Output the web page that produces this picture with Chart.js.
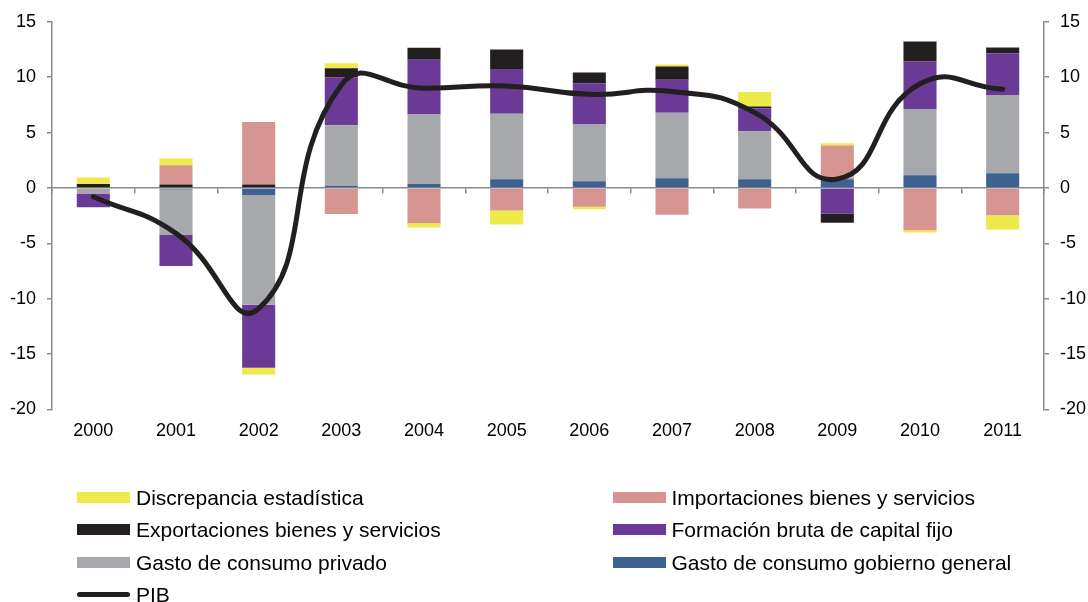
<!DOCTYPE html>
<html>
<head>
<meta charset="utf-8">
<script src="https://cdn.jsdelivr.net/npm/chart.js@4"></script>
<style>
    body { margin: 0; background: #fff; font-family: "Liberation Sans", Arial, sans-serif; }
    #contenedor { position: relative; width: 1088px; height: 602px; }
    #leyenda { position: absolute; left: 77px; top: 482px; width: 1011px; }
    .item { position: absolute; height: 32px; line-height: 32px; font-size: 21px; color: #000; white-space: nowrap; }
    .muestra { display: inline-block; width: 53px; height: 11px; vertical-align: middle; margin-right: 6px; position: relative; top: -2px; }
    .linea { height: 5px; border-radius: 3px; }
</style>
</head>
<body>
<div id="contenedor">
    <canvas id="grafico" width="1088" height="602"></canvas>
    <div id="leyenda"></div>
</div>
<script>
var anios = ['2000', '2001', '2002', '2003', '2004', '2005', '2006', '2007', '2008', '2009', '2010', '2011'];

var gobierno = [0, -0.15, -0.65, 0.2, 0.36, 0.78, 0.6, 0.87, 0.78, 0.78, 1.14, 1.32];
var privado = [-0.5, -4.1, -9.9, 5.45, 6.28, 5.92, 5.17, 5.92, 4.33, 0.15, 5.95, 7.03];
var formacion = [-1.25, -2.8, -5.7, 4.35, 4.93, 3.97, 3.67, 2.98, 2.07, -2.3, 4.33, 3.79];
var exportaciones = [0.35, 0.3, 0.3, 0.8, 1.08, 1.83, 0.99, 1.2, 0.18, -0.85, 1.8, 0.54];
var importaciones = [0, 1.75, 5.65, -2.35, -3.19, -2.04, -1.71, -2.43, -1.86, 2.9, -3.82, -2.46];
var discrepancia = [0.6, 0.6, -0.6, 0.45, -0.39, -1.27, -0.21, 0.18, 1.29, 0.2, -0.21, -1.3];
var pib = [-0.8, -4.1, -10.9, 9.3, 9.0, 9.2, 8.45, 8.7, 6.8, 0.8, 9.4, 8.9];

var gris = '#8a8a8d';
var fuente = { family: '"Liberation Sans", Arial, sans-serif', size: 18 };

function barra(nombre, valores, color) {
    return {
        type: 'bar',
        label: nombre,
        data: valores,
        backgroundColor: color,
        borderWidth: 0,
        categoryPercentage: 1,
        barPercentage: 0.4,
        yAxisID: 'y',
        order: 1
    };
}

var datasets = [
    barra('Gasto de consumo gobierno general', gobierno, '#3d6191'),
    barra('Gasto de consumo privado', privado, '#a7a8ab'),
    barra('Formación bruta de capital fijo', formacion, '#6b3a96'),
    barra('Exportaciones bienes y servicios', exportaciones, '#231f20'),
    barra('Importaciones bienes y servicios', importaciones, '#d69591'),
    barra('Discrepancia estadística', discrepancia, '#eeea4a'),
    {
        type: 'line',
        label: 'PIB',
        data: pib,
        borderColor: '#231f20',
        borderWidth: 5,
        borderCapStyle: 'round',
        tension: 0.5,
        pointRadius: 0,
        fill: false,
        yAxisID: 'y2',
        order: 0
    }
];

function ejeY(ancho) {
    return {
        min: -20,
        max: 15,
        border: { color: gris, width: 1.5 },
        grid: { drawOnChartArea: false, color: gris, tickLength: 5, lineWidth: 1.5 },
        ticks: { stepSize: 5, color: '#000', font: fuente, padding: 11 },
        afterFit: function(escala) { escala.width = ancho; }
    };
}

new Chart(document.getElementById('grafico'), {
    data: { labels: anios, datasets: datasets },
    options: {
        responsive: false,
        animation: false,
        layout: { padding: { left: 0, right: 0, top: 21, bottom: 149 } },
        plugins: { legend: { display: false }, tooltip: { enabled: false } },
        scales: {
            x: {
                stacked: true,
                border: { display: false },
                grid: { display: false, drawTicks: false },
                ticks: { color: '#000', font: fuente, padding: 11 }
            },
            // linea del cero con las marcas entre categorias
            x2: {
                type: 'category',
                position: { y: 0 },
                offset: true,
                border: { color: gris, width: 1.5 },
                grid: { offset: true, drawOnChartArea: false, color: gris, tickLength: 5, lineWidth: 1.5 },
                ticks: { display: false }
            },
            y: Object.assign({ stacked: true, position: 'left' }, ejeY(52)),
            y2: Object.assign({ position: 'right' }, ejeY(44))
        }
    }
});

// leyenda en dos columnas, en el orden inverso de la pila
var orden = [5, 4, 3, 2, 1, 0, 6];
var leyenda = document.getElementById('leyenda');
orden.forEach(function(indice, i) {
    var ds = datasets[indice];
    var item = document.createElement('div');
    item.className = 'item';
    item.style.left = (i % 2 === 0 ? 0 : 535.5) + 'px';
    item.style.top = (Math.floor(i / 2) * 32.3) + 'px';
    var muestra = document.createElement('span');
    muestra.className = 'muestra';
    if (ds.type === 'line') {
        muestra.className += ' linea';
        muestra.style.background = ds.borderColor;
    } else {
        muestra.style.background = ds.backgroundColor;
    }
    item.appendChild(muestra);
    item.appendChild(document.createTextNode(ds.label));
    leyenda.appendChild(item);
});
</script>
</body>
</html>
